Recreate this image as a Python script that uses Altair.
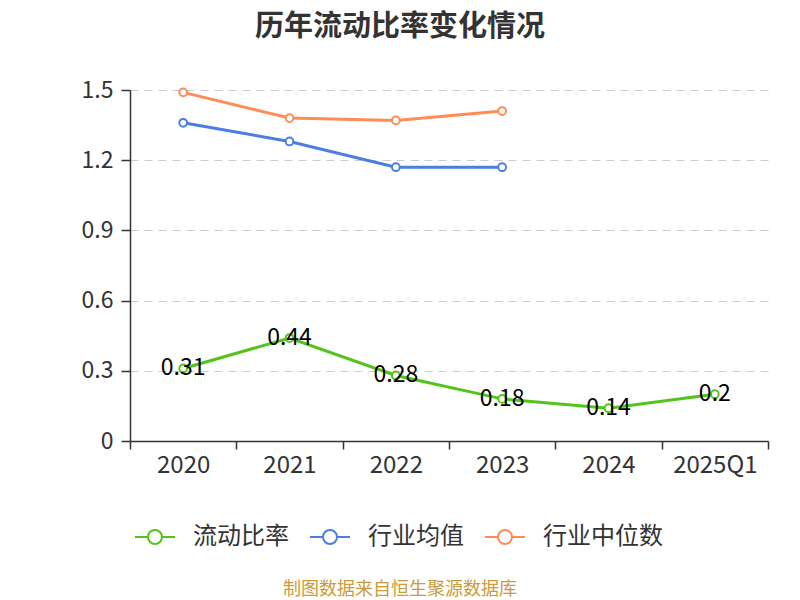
import altair as alt
import pandas as pd

categories = ["2020", "2021", "2022", "2023", "2024", "2025Q1"]
current_ratio = [0.31, 0.44, 0.28, 0.18, 0.14, 0.2]
industry_mean = [1.36, 1.28, 1.17, 1.17, None, None]
industry_median = [1.49, 1.38, 1.37, 1.41, None, None]
series_names = ["流动比率", "行业均值", "行业中位数"]
series_colors = ["#52c41a", "#4a7ee0", "#ff8c55"]
y_ticks = [0, 0.3, 0.6, 0.9, 1.2, 1.5]

rows = []
for name, vals in zip(series_names, [current_ratio, industry_mean, industry_median]):
    for c, v in zip(categories, vals):
        if v is not None:
            rows.append({"year": c, "value": v, "series": name, "label": str(v)})
df = pd.DataFrame(rows)

FONT = "Noto Sans CJK SC"

x_enc = alt.X(
    "year:N", sort=categories, title=None,
    scale=alt.Scale(domain=categories, paddingInner=0, paddingOuter=0),
    axis=alt.Axis(labelAngle=0, tickBand="extent", tickSize=8, labelFontSize=24,
                  labelColor="#333333", labelPadding=4, domainColor="#333333",
                  domainWidth=1.5, tickColor="#333333", tickWidth=1.5, grid=False,
                  labelFont=FONT),
)
y_enc = alt.Y(
    "value:Q", title=None,
    scale=alt.Scale(domain=[0, 1.5], nice=False, zero=True),
    axis=alt.Axis(values=y_ticks, format=".1~f", tickSize=9, labelFontSize=23,
                  labelColor="#333333", labelPadding=8, domainColor="#333333",
                  domainWidth=1.5, tickColor="#333333", tickWidth=1.5,
                  grid=True, gridColor="#cccccc", gridDash=[8, 6], gridWidth=1.2,
                  labelFont=FONT),
)
color_enc = alt.Color(
    "series:N", sort=series_names,
    scale=alt.Scale(domain=series_names, range=series_colors),
    legend=alt.Legend(
        title=None, orient="none", direction="horizontal", legendX=13, legendY=435,
        symbolType="M-2,0L-0.7,0M0.7,0L2,0M0.7,0A0.7,0.7,0,1,1,-0.7,0A0.7,0.7,0,1,1,0.7,0",
        symbolSize=400, symbolStrokeWidth=2, symbolFillColor="white",
        labelFontSize=24, labelColor="#333333", labelFont=FONT,
        labelOffset=26, columnPadding=17, padding=0,
    ),
)

base = alt.Chart(df).encode(x=x_enc, y=y_enc, color=color_enc)
lines = base.mark_line(strokeWidth=3)
points = base.mark_point(filled=False, fill="white", fillOpacity=1, size=60,
                         strokeWidth=2, opacity=1)

labels = alt.Chart(df[df["series"] == "流动比率"]).mark_text(
    fontSize=23, color="black", font=FONT, align="center", baseline="middle"
).encode(x=alt.X("year:N", sort=categories), y=alt.Y("value:Q"), text="label:N")

source_df = pd.DataFrame({"t": ["制图数据来自恒生聚源数据库"]})
source = alt.Chart(source_df).mark_text(
    fontSize=18, color="#cc9a3a", font=FONT, align="center", baseline="middle"
).encode(x=alt.value(270), y=alt.value(500), text="t:N")

chart = alt.layer(lines, points, labels, source).properties(
    width=638, height=351,
    title=alt.TitleParams("历年流动比率变化情况", fontSize=29, fontWeight="bold",
                          color="#333333", font=FONT, anchor="middle", dx=-49, offset=37),
    autosize=alt.AutoSizeParams(type="none"),
    padding={"left": 122, "top": 82, "right": 24, "bottom": 159},
).configure_view(stroke=None)

chart.save("out.html", embed_options={"renderer": "svg", "actions": False})
